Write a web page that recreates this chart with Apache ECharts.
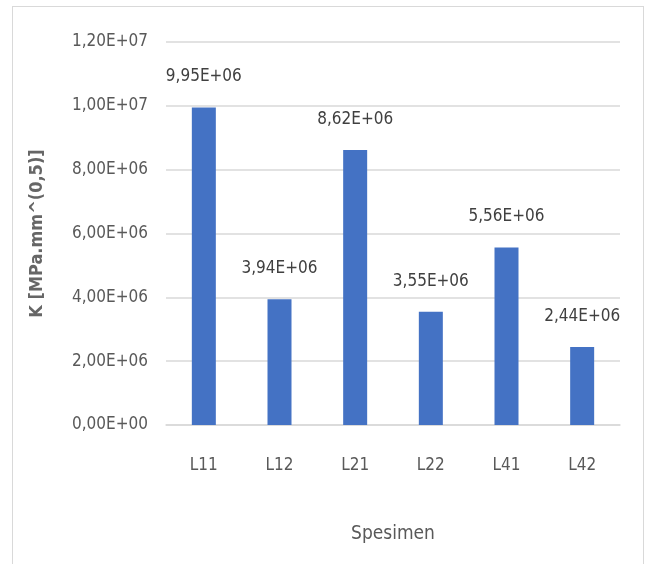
<!DOCTYPE html>
<html>
<head>
<meta charset="utf-8">
<script src="https://cdn.jsdelivr.net/npm/echarts@6/dist/echarts.min.js"></script>
<style>
html,body{margin:0;padding:0;background:#fff;}
#frame{position:absolute;left:12px;top:6px;width:632px;height:570px;border:1.5px solid #d9d9d9;box-sizing:border-box;}
#c{position:absolute;left:0;top:0;width:646px;height:564px;}
</style>
</head>
<body>
<div id="frame"></div>
<div id="c"></div>
<script>
const categories = ["L11","L12","L21","L22","L41","L42"];
const values = [9.95e6, 3.94e6, 8.62e6, 3.55e6, 5.56e6, 2.44e6];
const yTitle = "K [MPa.mm^(0,5)]";
const xTitle = "Spesimen";

function sci(v){
  if (v === 0) return "0,00E+00";
  let e = Math.floor(Math.log10(Math.abs(v)));
  let m = v / Math.pow(10, e);
  if (Math.round(m*100)/100 >= 10) { m /= 10; e += 1; }
  const ms = m.toFixed(2).replace('.', ',');
  const es = (e < 0 ? "-" : "+") + String(Math.abs(e)).padStart(2, '0');
  return ms + "E" + es;
}

const font = "'Liberation Sans Narrow','DejaVu Sans Condensed',sans-serif";
const chart = echarts.init(document.getElementById('c'));
chart.setOption({
  animation:false,
  grid:{left:166,right:26,top:42,bottom:139},
  xAxis:{
    type:'category',
    data:categories,
    name:xTitle,
    nameLocation:'middle',
    nameGap:100,
    nameTextStyle:{color:'#595959',fontSize:19,fontFamily:font},
    axisLine:{lineStyle:{color:'#d9d9d9',width:1.5}},
    axisTick:{show:false},
    axisLabel:{color:'#595959',fontSize:17,fontFamily:font,margin:32}
  },
  yAxis:{
    type:'value',
    min:0,max:12e6,interval:2e6,
    name:yTitle,
    nameLocation:'middle',
    nameGap:120,
    nameTextStyle:{color:'#666666',fontSize:18,fontWeight:'bold',fontFamily:font},
    axisLine:{show:false},
    axisTick:{show:false},
    axisLabel:{color:'#595959',fontSize:17,fontFamily:font,margin:18,formatter:sci},
    splitLine:{lineStyle:{color:'#d9d9d9',width:1.5}}
  },
  series:[{
    type:'bar',
    data:values,
    barWidth:24,
    itemStyle:{color:'#4472C4'},
    label:{show:true,position:'top',distance:22,color:'#404040',fontSize:17,fontFamily:font,formatter:p=>sci(p.value)}
  }]
});
</script>
</body>
</html>
